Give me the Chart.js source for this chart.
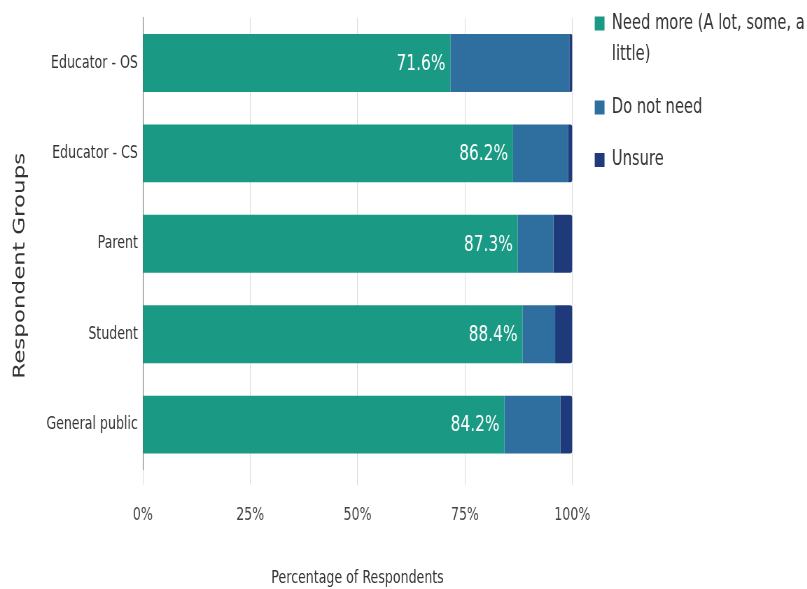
<!DOCTYPE html>
<html>
<head>
<meta charset="utf-8">
<script src="https://cdn.jsdelivr.net/npm/chart.js@4/dist/chart.umd.min.js"></script>
<style>
  html, body { margin: 0; padding: 0; background: #ffffff; overflow: hidden; width: 807px; height: 589px; }
  #wrap { width: 807px; height: 589px; overflow: hidden; }
  #c { display: block; transform: scaleX(0.7); transform-origin: 0 0; }
</style>
</head>
<body>
<div id="wrap"><canvas id="c" width="1153" height="589" style="width:1153px;height:589px"></canvas></div>
<script>
// ---- data ----
const categories = ['Educator - OS', 'Educator - CS', 'Parent', 'Student', 'General public'];
const seriesNames = ['Need more (A lot, some, a little)', 'Do not need', 'Unsure'];
const legendLines = [['Need more (A lot, some, a', 'little)'], ['Do not need'], ['Unsure']];
const needMore = [71.6, 86.2, 87.3, 88.4, 84.2];
const doNotNeed = [27.7, 12.8, 8.3, 7.6, 13.0];
const unsure = [0.7, 1.0, 4.4, 4.0, 2.8];
const xTicks = [0, 25, 50, 75, 100];
const xTitle = 'Percentage of Respondents';
const yTitle = 'Respondent Groups      ';
const colors = ['#1a9a84', '#2e6f9f', '#1f3a7a'];

Chart.defaults.font.family = '"DejaVu Sans", Verdana, sans-serif';

const barLabels = {
  id: 'barLabels',
  afterDatasetsDraw(chart) {
    const ctx = chart.ctx;
    const meta = chart.getDatasetMeta(0);
    ctx.save();
    ctx.font = '22px "DejaVu Sans", Verdana, sans-serif';
    ctx.fillStyle = '#ffffff';
    ctx.textAlign = 'right';
    ctx.textBaseline = 'middle';
    meta.data.forEach((bar, i) => {
      ctx.fillText(needMore[i].toFixed(1) + '%', bar.x - 7, bar.y + 1);
    });
    ctx.restore();
  }
};

new Chart(document.getElementById('c'), {
  type: 'bar',
  data: {
    labels: categories,
    datasets: [
      { label: seriesNames[0], data: needMore, backgroundColor: colors[0], borderWidth: 0 },
      { label: seriesNames[1], data: doNotNeed, backgroundColor: colors[1], borderWidth: 0 },
      { label: seriesNames[2], data: unsure, backgroundColor: colors[2], borderWidth: 0, borderRadius: 3 }
    ]
  },
  options: {
    indexAxis: 'y',
    responsive: false,
    animation: false,
    devicePixelRatio: 1,
    barPercentage: 0.8,
    categoryPercentage: 0.8,
    layout: { padding: { top: -8, left: 0, right: -6.6, bottom: 0 } },
    scales: {
      x: {
        stacked: true,
        min: 0,
        max: 100,
        afterBuildTicks(scale) { scale.ticks = xTicks.map(v => ({ value: v })); },
        ticks: {
          callback: v => v + '%',
          color: '#444',
          font: { size: 18 },
          padding: 20,
          maxRotation: 0
        },
        grid: { color: '#d9d9d9', tickLength: 15, drawTicks: true },
        border: { display: false },
        title: {
          display: true,
          text: xTitle,
          color: '#333',
          font: { size: 18 },
          padding: { top: 21, bottom: 0 }
        }
      },
      y: {
        stacked: true,
        ticks: { color: '#333', font: { size: 18 }, padding: 7 },
        grid: { display: false, drawTicks: false },
        border: { display: true, color: '#666', width: 1 },
        afterFit(scale) { scale.width = 204; },
        title: {
          display: true,
          text: yTitle,
          color: '#333',
          font: { size: 23 },
          padding: { top: 15, bottom: 17 }
        }
      },
      gap: {
        type: 'linear',
        position: 'right',
        display: true,
        grid: { display: false, drawTicks: false },
        ticks: { display: false },
        border: { display: false },
        afterFit(scale) { scale.width = 11; }
      }
    },
    plugins: {
      title: {
        display: true,
        text: '',
        font: { size: 10, lineHeight: 1 },
        padding: { top: 0, bottom: 14.5 }
      },
      legend: {
        position: 'right',
        align: 'start',
        maxWidth: 420,
        labels: {
          boxWidth: 14,
          boxHeight: 14,
          padding: 21,
          color: '#333',
          font: { size: 21, lineHeight: 1.5 },
          generateLabels(chart) {
            const base = Chart.defaults.plugins.legend.labels.generateLabels(chart);
            return base.map(item => Object.assign({}, item, { text: legendLines[item.datasetIndex], lineWidth: 0 }));
          }
        }
      },
      tooltip: { enabled: false }
    }
  },
  plugins: [barLabels]
});
</script>
</body>
</html>
